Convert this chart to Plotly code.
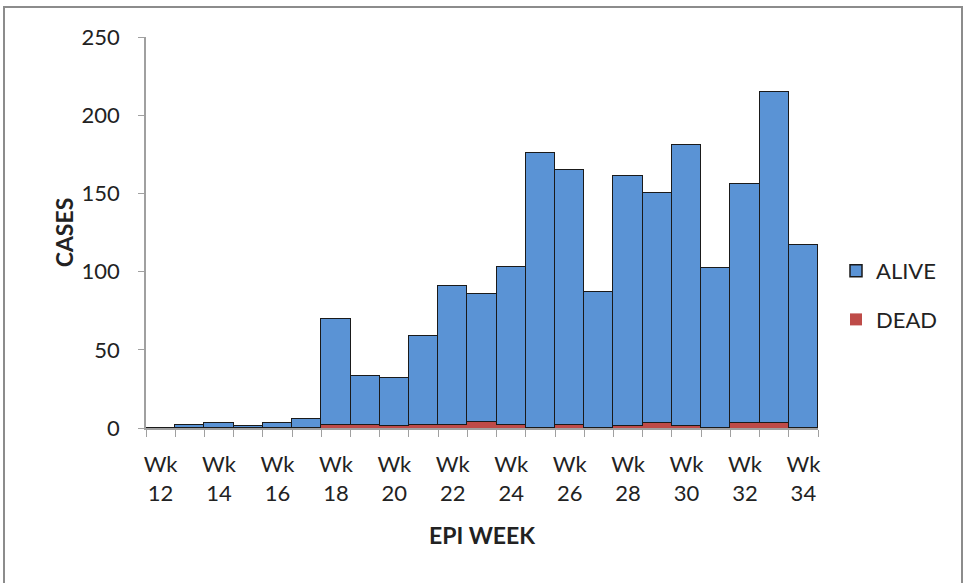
import plotly.graph_objects as go

weeks = list(range(12, 35))
alive = [0, 2, 3, 1, 3, 6, 68, 31, 31, 57, 89, 82, 101, 176, 163, 87, 160, 147, 180, 102, 153, 212, 117]
dead = [0, 0, 0, 0, 0, 0, 2, 2, 1, 2, 2, 4, 2, 0, 2, 0, 1, 3, 1, 0, 3, 3, 0]
tick_text = [f"Wk<br>{w}" if (w % 2 == 0) else "" for w in weeks]
y_ticks = [0, 50, 100, 150, 200, 250]

FONT = "Lato"
L, R, T, B = 146, 147, 37, 155
W, H = 965, 583
pw = W - L - R
ph = H - T - B

fig = go.Figure()
fig.add_trace(go.Bar(
    x=weeks, y=dead, name="DEAD", legendgroup="dead", legendrank=2,
    marker=dict(color="#BE4B48", line=dict(width=0)),
))
fig.add_trace(go.Bar(
    x=weeks, y=alive, name="ALIVE", legendgroup="alive", legendrank=1,
    marker=dict(color="#5A93D5", line=dict(color="#1a1a1a", width=1.5)),
))

fig.update_layout(
    width=W, height=H,
    margin=dict(l=L, r=R, t=T, b=B, autoexpand=False),
    barmode="stack", bargap=0,
    plot_bgcolor="white", paper_bgcolor="white",
    font=dict(family=FONT, size=22, color="#222222"),
    showlegend=True,
    legend=dict(
        x=(836 - L) / pw, y=(428 - 250) / ph, xanchor="left", yanchor="top",
        traceorder="grouped", tracegroupgap=17,
        font=dict(family=FONT, size=22, color="#222222"),
        itemwidth=30, bgcolor="rgba(0,0,0,0)",
    ),
    xaxis=dict(
        type="category", tickmode="array", tickvals=weeks, ticktext=tick_text,
        tickson="boundaries", ticks="outside", ticklen=7, tickcolor="#A0A0A0",
        showline=True, linecolor="#A0A0A0", linewidth=1.5,
        showgrid=False, tickangle=0, ticklabelstandoff=16,
        title=dict(text="<b>EPI WEEK</b>", font=dict(family=FONT, size=23), standoff=23),
    ),
    yaxis=dict(
        range=[0, 250], tickmode="array", tickvals=y_ticks,
        ticks="outside", ticklen=6, tickcolor="#A0A0A0",
        showline=True, linecolor="#A0A0A0", linewidth=1.5,
        showgrid=False, zeroline=False, ticklabelstandoff=14,
        title=dict(text="<b>CASES</b>", font=dict(family=FONT, size=23), standoff=2),
    ),
    shapes=[dict(
        type="rect", xref="paper", yref="paper",
        x0=(4 - L) / pw, x1=(962 - L) / pw,
        y0=(428 - 600) / ph, y1=(428 - 7) / ph,
        line=dict(color="#8C8C8C", width=2), fillcolor="rgba(0,0,0,0)", layer="below",
    )],
)

fig.write_html(
    "out.html",
    config={"displayModeBar": False},
    post_script="document.body.style.margin='0';document.body.style.overflow='hidden';",
)
